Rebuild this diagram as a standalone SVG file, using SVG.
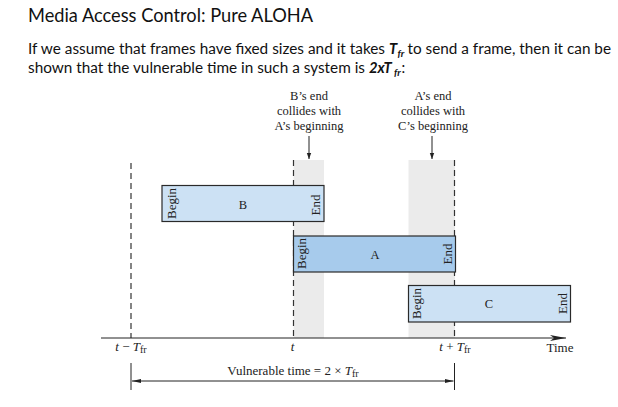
<svg xmlns="http://www.w3.org/2000/svg" width="618" height="407" viewBox="0 0 618 407">
<style>
.sans{font-family:Lato,"Open Sans","Liberation Sans",sans-serif;fill:#111}
.bi{font-weight:bold;font-style:italic}
.serif{font-family:"Liberation Serif","Times New Roman",serif;fill:#222}
.lbl{font-size:12.5px;text-anchor:middle}
.vt{font-size:13px;text-anchor:middle}
.it{font-style:italic}
.dash{stroke:#333;stroke-width:1.2;stroke-dasharray:6 4;fill:none}
.stripe{fill:#ebebeb}
.frameL{fill:#cce1f4;stroke:#2a2a2a;stroke-width:1.2}
.frameA{fill:#a7cbec;stroke:#2a2a2a;stroke-width:1.2}
.line{stroke:#222;stroke-width:1;fill:none}
</style>
<defs>
<marker id="ahS" viewBox="0 0 6 6" refX="6" refY="3" markerWidth="6" markerHeight="6" markerUnits="userSpaceOnUse" orient="auto-start-reverse"><path d="M0,0.8 L6,3 L0,5.2 Z" fill="#222"/></marker>
<marker id="ahT" viewBox="0 0 16 6" refX="16" refY="3" markerWidth="16" markerHeight="6" markerUnits="userSpaceOnUse" orient="auto"><path d="M0,0 L16,3 L0,6 L4,3 Z" fill="#222"/></marker>
<marker id="ahV" viewBox="0 0 9 4" refX="9" refY="2" markerWidth="9" markerHeight="4" markerUnits="userSpaceOnUse" orient="auto-start-reverse"><path d="M0,0 L9,2 L0,4 Z" fill="#222"/></marker>
</defs>

<g id="heading">
<text class="sans" x="28" y="22" font-size="19" textLength="285" lengthAdjust="spacingAndGlyphs">Media Access Control: Pure ALOHA</text>
<text class="sans" x="28" y="54" font-size="14.8" textLength="357" lengthAdjust="spacingAndGlyphs">If we assume that frames have fixed sizes and it takes</text>
<text class="sans bi" x="389" y="54" font-size="14.8">T</text>
<text class="sans bi" x="397.5" y="57" font-size="10">fr</text>
<text class="sans" x="407.5" y="54" font-size="14.8" textLength="203.5" lengthAdjust="spacingAndGlyphs">to send a frame, then it can be</text>
<text class="sans" x="28" y="73" font-size="14.8" textLength="337" lengthAdjust="spacingAndGlyphs">shown that the vulnerable time in such a system is</text>
<text class="sans bi" x="369" y="73" font-size="14.8">2xT</text>
<text class="sans bi" x="394" y="76" font-size="10">fr</text>
<text class="sans" x="401.5" y="73" font-size="14.8">:</text>
</g>

<g id="vulnerable-zones">
<rect class="stripe" x="293.5" y="160" width="30.5" height="178"/>
<rect class="stripe" x="408.5" y="160" width="46.5" height="178"/>
</g>

<g id="connectors">
<line class="dash" x1="131" y1="163" x2="131" y2="338"/>
<line class="dash" x1="293.5" y1="160" x2="293.5" y2="338"/>
<line class="dash" x1="454.5" y1="160" x2="454.5" y2="338"/>
<line class="line" x1="101" y1="338" x2="566" y2="338" marker-end="url(#ahT)"/>
<line class="line" x1="309" y1="136" x2="309" y2="159" marker-end="url(#ahS)"/>
<line class="line" x1="432" y1="136" x2="432" y2="159" marker-end="url(#ahS)"/>
<line class="line" x1="131" y1="363" x2="131" y2="390"/>
<line class="line" x1="454.5" y1="363" x2="454.5" y2="390"/>
<line class="line" x1="132" y1="381" x2="453.5" y2="381" marker-start="url(#ahV)" marker-end="url(#ahV)"/>
</g>

<g id="frame-B">
<rect class="frameL" x="162" y="185.5" width="162" height="36"/>
<text class="serif vt" transform="translate(175.5,203.5) rotate(-90)">Begin</text>
<text class="serif lbl" font-size="13" x="243" y="208.5">B</text>
<text class="serif vt" transform="translate(320,205) rotate(-90)">End</text>
</g>

<g id="frame-A">
<rect class="frameA" x="293.5" y="236" width="162" height="36"/>
<text class="serif vt" transform="translate(306,253.5) rotate(-90)">Begin</text>
<text class="serif lbl" font-size="13" x="375" y="258.5">A</text>
<text class="serif vt" transform="translate(451.5,254) rotate(-90)">End</text>
</g>

<g id="frame-C">
<rect class="frameL" x="408.5" y="285.5" width="162" height="36.5"/>
<text class="serif vt" transform="translate(420.5,303.5) rotate(-90)">Begin</text>
<text class="serif lbl" font-size="13" x="489" y="308">C</text>
<text class="serif vt" transform="translate(567,303.5) rotate(-90)">End</text>
</g>

<g id="collision-1">
<text class="serif lbl" x="309" y="100">B’s end</text>
<text class="serif lbl" x="309" y="115">collides with</text>
<text class="serif lbl" x="309" y="130">A’s beginning</text>
</g>

<g id="collision-2">
<text class="serif lbl" x="433" y="100">A’s end</text>
<text class="serif lbl" x="433" y="115">collides with</text>
<text class="serif lbl" x="433" y="130">C’s beginning</text>
</g>

<g id="axis-labels">
<text class="serif" font-size="13" x="131" y="351" text-anchor="middle"><tspan class="it">t</tspan> − <tspan class="it">T</tspan><tspan font-size="10" dy="2">fr</tspan></text>
<text class="serif it" font-size="13" x="292.5" y="351" text-anchor="middle">t</text>
<text class="serif" font-size="13" x="455" y="351" text-anchor="middle"><tspan class="it">t</tspan> + <tspan class="it">T</tspan><tspan font-size="10" dy="2">fr</tspan></text>
<text class="serif" font-size="13" x="560" y="352" text-anchor="middle">Time</text>
<text class="serif" font-size="13" x="293" y="375" text-anchor="middle">Vulnerable time = 2 × <tspan class="it">T</tspan><tspan font-size="10" dy="2">fr</tspan></text>
</g>
</svg>
